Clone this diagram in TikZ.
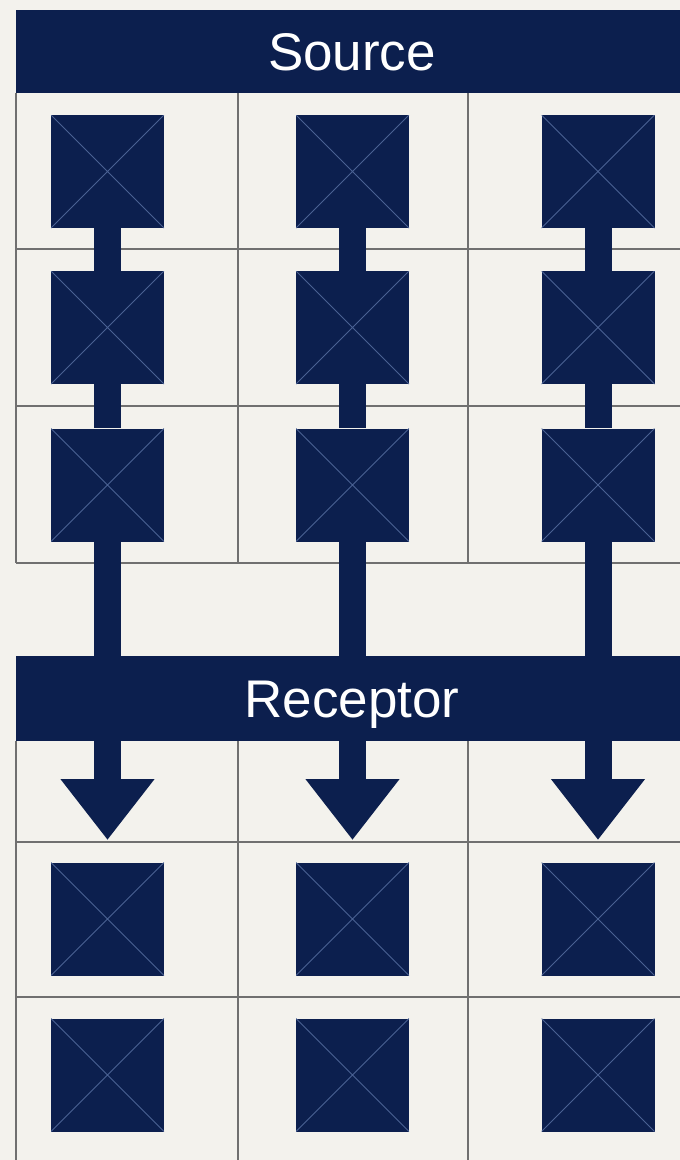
\documentclass[tikz,border=0pt]{standalone}
\usepackage{fontspec}
\newfontfamily\labelfont{Liberation Sans}
\usetikzlibrary{arrows.meta}
\definecolor{navy}{HTML}{0C1F4E}
\definecolor{xline}{HTML}{4A6193}
\definecolor{gridc}{HTML}{707070}
\definecolor{paper}{HTML}{F3F2ED}
\tikzset{
  cell/.style={fill=navy, minimum size=113pt, inner sep=0pt,
    path picture={\draw[xline, line width=0.9pt]
      (path picture bounding box.north west) -- (path picture bounding box.south east)
      (path picture bounding box.north east) -- (path picture bounding box.south west);}},
  bar/.style={fill=navy, text=white, minimum width=672pt, inner sep=0pt,
    text height=38pt, text depth=0pt, font=\labelfont\fontsize{53}{60}\selectfont},
  gridline/.style={draw=gridc, line width=1.8pt},
  link/.style={draw=navy, line width=27pt},
  flow/.style={link, -{Triangle[width=90pt,length=61pt]}},
}
\begin{document}
\begin{tikzpicture}[x=1pt,y=-1pt]
\useasboundingbox (0,0) rectangle (680,1160);
\clip (0,0) rectangle (680,1160);
\fill[paper] (0,0) rectangle (680,1160);
% grid lines
\foreach \y in {249,406,563} \draw[gridline] (16,\y) -- (690,\y);
\foreach \x in {16,238,468} \draw[gridline] (\x,93) -- (\x,563);
\foreach \y in {842,997} \draw[gridline] (16,\y) -- (690,\y);
\foreach \x in {16,238,468} \draw[gridline] (\x,741) -- (\x,1170);
% bars
\node[bar, minimum height=83pt] (src) at (352,51.5) {Source};
% cells
\foreach \c/\cx in {1/107.5,2/352.5,3/598} {
  \node[cell] (a1\c) at (\cx,171.5) {};
  \node[cell] (a2\c) at (\cx,327.5) {};
  \node[cell] (a3\c) at (\cx,485) {};
  \node[cell] (b1\c) at (\cx,919) {};
  \node[cell] (b2\c) at (\cx,1075) {};
  \coordinate (tip\c) at (\cx,840);
}
\node[bar, minimum height=85pt] (rec) at (352,698.5) {Receptor};
% connectors
\foreach \c in {1,2,3} {
  \draw[link] (a1\c.south) -- (a2\c.north);
  \draw[link] (a2\c.south) -- (a3\c.north);
  \draw[link] (a3\c.south) -- (a3\c.south |- rec.north);
  \draw[flow] (tip\c |- rec.south) -- (tip\c);
}
\end{tikzpicture}
\end{document}
